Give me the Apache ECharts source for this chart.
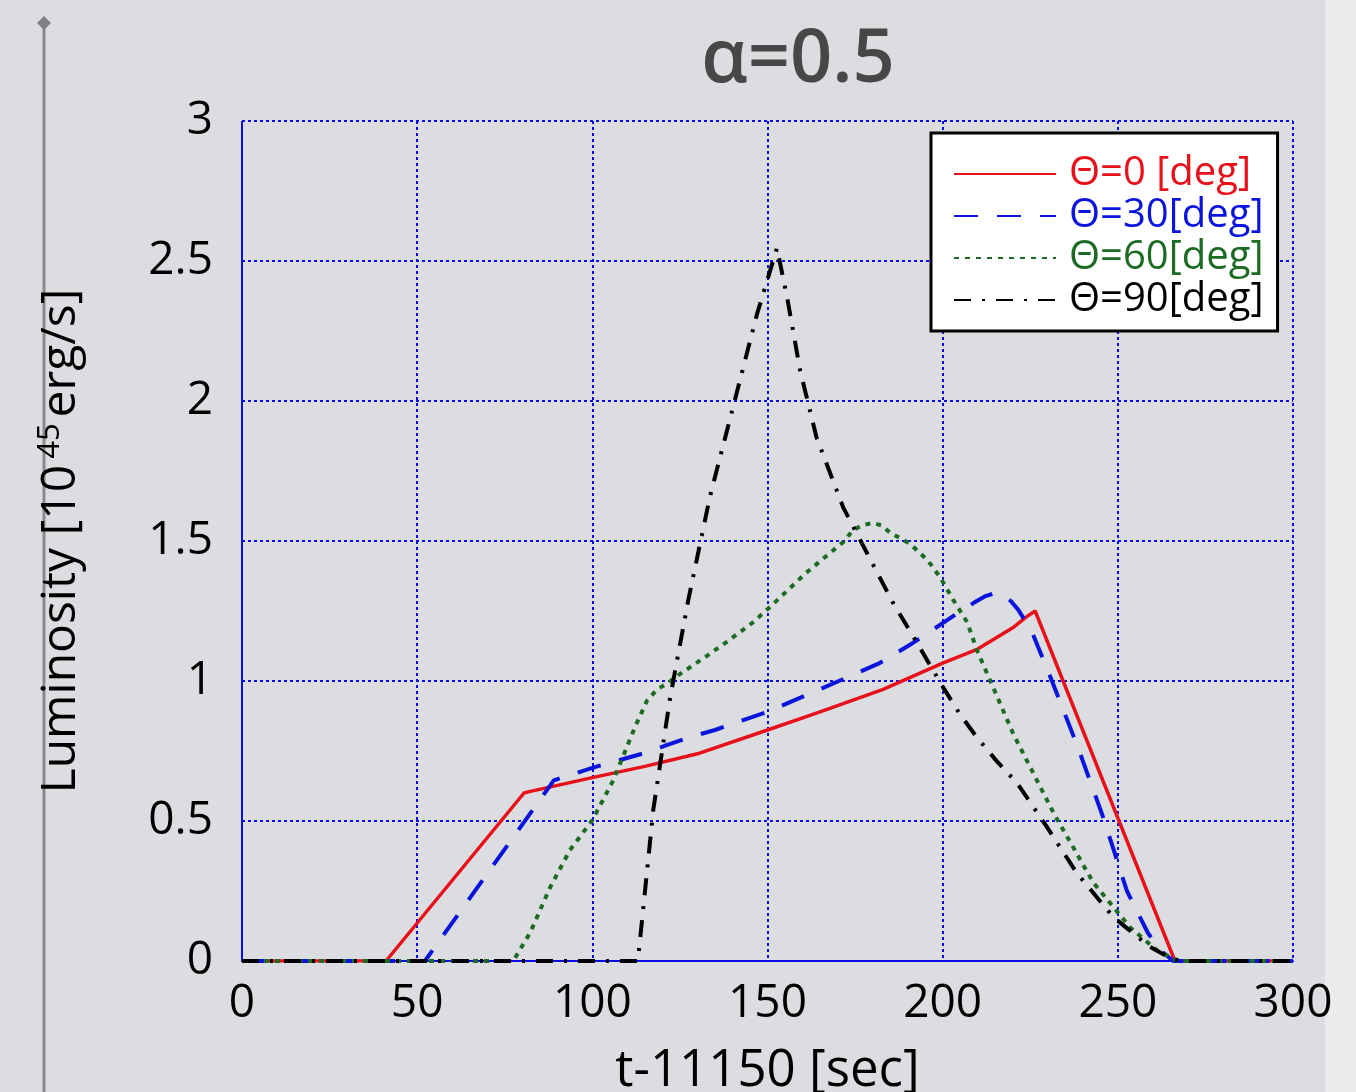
<!DOCTYPE html>
<html>
<head>
<meta charset="utf-8">
<script src="https://cdn.jsdelivr.net/npm/echarts/dist/echarts.min.js"></script>
<style>
  html, body { margin: 0; padding: 0; background: #dcdde0; }
  #chart { width: 1356px; height: 1092px; }
</style>
</head>
<body>
<div id="chart"></div>
<script>
// light curves, t-11150 [sec] vs luminosity [1e45 erg/s]
var names = ['Θ=0 [deg]', 'Θ=30[deg]', 'Θ=60[deg]', 'Θ=90[deg]'];

var t0 = [0, 41.1, 80.5, 82, 100, 115, 130, 150, 165, 183, 200, 210, 220, 224, 226.4, 266.3, 300];
var l0 = [0, 0, 0.6, 0.605, 0.655, 0.695, 0.74, 0.825, 0.89, 0.97, 1.064, 1.114, 1.19, 1.23, 1.25, 0, 0];

var t30 = [0, 52.2, 89, 100, 115, 121, 128, 135, 141.6, 150, 164, 174, 182, 191.5, 204, 209, 212, 215, 217, 219.5, 221.6, 225.5, 231.2, 238.7, 245.9, 252.6, 258.6, 262, 265.8, 300];
var l30 = [0, 0, 0.645, 0.69, 0.743, 0.77, 0.8, 0.825, 0.854, 0.89, 0.965, 1.02, 1.064, 1.136, 1.24, 1.28, 1.302, 1.314, 1.31, 1.285, 1.254, 1.175, 1.0, 0.76, 0.51, 0.25, 0.1, 0.04, 0, 0];

var t60 = [0, 77.4, 82.2, 88, 93.6, 100, 106, 112.2, 115.6, 118.5, 121.6, 125, 131.6, 138.4, 145.6, 150.7, 161, 171.6, 174.5, 177.5, 180.1, 182.5, 185, 190.7, 195.8, 199.3, 203, 207, 209.8, 220.2, 231.6, 243, 253.5, 261, 267, 300];
var l60 = [0, 0, 0.1, 0.264, 0.396, 0.503, 0.646, 0.836, 0.93, 0.97, 0.993, 1.025, 1.08, 1.14, 1.207, 1.264, 1.386, 1.496, 1.54, 1.558, 1.564, 1.556, 1.53, 1.49, 1.43, 1.37, 1.29, 1.21, 1.11, 0.81, 0.53, 0.28, 0.12, 0.04, 0, 0];

var t90 = [0, 113, 117.4, 122.2, 127.4, 133.6, 140.2, 147, 152.7, 155.6, 159.3, 164, 171.6, 178.4, 185.8, 192.7, 200, 205, 209.7, 215, 221.2, 229.7, 238.3, 248.7, 259.2, 265, 268, 300];
var l90 = [0, 0, 0.54, 0.94, 1.29, 1.66, 1.98, 2.31, 2.546, 2.37, 2.11, 1.87, 1.62, 1.457, 1.28, 1.136, 0.98, 0.88, 0.8, 0.72, 0.636, 0.48, 0.314, 0.157, 0.05, 0.01, 0, 0];

var colors = ['#e8101a', '#0a14dc', '#1b6b22', '#000000'];
var dashes = ['solid', [24, 19], [5, 6], [17, 11, 3, 11]];
var widths = [3.5, 4, 4, 4];

var font = '"Open Sans", "DejaVu Sans", sans-serif';

function pairs(t, l) {
  var out = [];
  for (var i = 0; i < t.length; i++) out.push([t[i], l[i]]);
  return out;
}

var curves = [pairs(t0, l0), pairs(t30, l30), pairs(t60, l60), pairs(t90, l90)];

var series = curves.map(function (d, i) {
  return {
    name: names[i],
    type: 'line',
    data: d,
    showSymbol: false,
    symbol: 'none',
    animation: false,
    lineStyle: { color: colors[i], width: widths[i], type: dashes[i] },
    itemStyle: { color: colors[i] }
  };
});

var gridLine = { color: '#0a0ae6', width: 2, type: [3, 3] };

option = {
  backgroundColor: '#dcdde0',
  textStyle: { fontFamily: font },
  title: {
    text: 'α=0.5',
    left: 793,
    textAlign: 'center',
    top: 19,
    textStyle: { fontFamily: font, fontSize: 74, fontWeight: 600, color: '#474747' }
  },
  grid: { left: 242, right: 63, top: 121, bottom: 131, outerBoundsMode: 'none' },
  legend: {
    orient: 'vertical',
    left: 931,
    top: 133,
    backgroundColor: '#ffffff',
    borderColor: '#000000',
    borderWidth: 3,
    padding: [21, 14, 11, 22],
    itemWidth: 102,
    itemHeight: 30,
    itemGap: 2,
    itemStyle: { opacity: 0 },
    data: names.map(function (n, i) {
      return { name: n, textStyle: { color: colors[i] } };
    }),
    textStyle: { fontFamily: font, fontSize: 40, padding: [0, 0, 0, 8] }
  },
  xAxis: {
    type: 'value',
    min: 0,
    max: 300,
    interval: 50,
    name: 't-11150 [sec]',
    nameLocation: 'middle',
    nameGap: 85,
    nameTextStyle: { fontFamily: font, fontSize: 51, color: '#000' },
    axisLine: { show: true, onZero: false, lineStyle: { color: '#0a0ae6', width: 2 } },
    axisTick: { show: false },
    axisLabel: { margin: 20, fontFamily: font, fontSize: 46, color: '#000' },
    splitLine: { show: true, lineStyle: gridLine }
  },
  yAxis: {
    type: 'value',
    min: 0,
    max: 3,
    interval: 0.5,
    name: '{m|Luminosity [10}{s|45}{m|erg/s]}',
    nameLocation: 'middle',
    nameGap: 155,
    nameTextStyle: {
      rich: {
        m: { fontFamily: font, fontSize: 48, color: '#000', lineHeight: 52 },
        s: { fontFamily: font, fontSize: 31, color: '#000', verticalAlign: 'top', lineHeight: 52, padding: [0, 6, 20, 6] }
      }
    },
    axisLine: { show: true, lineStyle: gridLine },
    axisTick: { show: false },
    axisLabel: { margin: 29, fontFamily: font, fontSize: 46, color: '#000' },
    splitLine: { show: true, lineStyle: gridLine }
  },
  graphic: [
    { type: 'rect', shape: { x: 1325, y: 0, width: 31, height: 1092 }, style: { fill: '#ebebed' }, z: -1 },
    { type: 'line', shape: { x1: 44, y1: 24, x2: 44, y2: 1092 }, style: { stroke: '#888a8c', lineWidth: 3 }, z: 0 },
    { type: 'polygon', shape: { points: [[44, 16], [51, 23], [44, 30], [37, 23]] }, style: { fill: '#7e8082' }, z: 0 }
  ],
  series: series
};

var myChart = echarts.init(document.getElementById('chart'));
myChart.setOption(option);
window.addEventListener('resize', function () {
  myChart.resize();
});
</script>
</body>
</html>
